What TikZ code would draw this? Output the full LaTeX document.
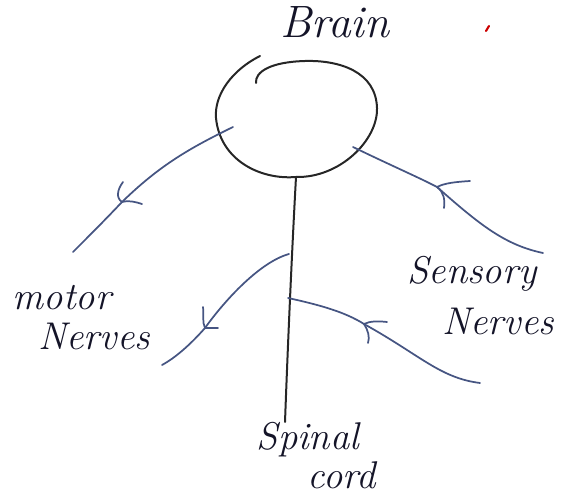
\documentclass[tikz,border=0pt]{standalone}
\begin{document}
\begin{tikzpicture}[x=0.75pt,y=-0.75pt,
  ink/.style={line width=1.5pt,draw=black!85,line cap=round,line join=round},
  nerve/.style={line width=1.3pt,draw={rgb,255:red,70;green,85;blue,130},line cap=round,line join=round},
  label/.style={font=\itshape\fontsize{29}{29}\selectfont,text={rgb,255:red,20;green,20;blue,40},inner sep=0pt}]
\useasboundingbox (0,0) rectangle (578,498);
% coordinates
\coordinate (cb) at (296,177);
\coordinate (m1) at (233,127);
\coordinate (m2) at (73,252);
\coordinate (ma) at (122,202);
\coordinate (s1) at (353,147);
\coordinate (s2) at (543,253);
\coordinate (sa) at (437,187);
\coordinate (sc) at (285,422);
\coordinate (b1) at (289,254);
\coordinate (b2) at (162,365);
\coordinate (ba) at (205,328);
\coordinate (c1) at (288,298);
\coordinate (c2) at (480,383);
\coordinate (ca) at (364,324);
% brain loop
\draw[ink] (260,56) .. controls (232,70) and (214,95) .. (216,118)
  .. controls (220,160) and (260,180) .. (cb)
  .. controls (340,178) and (378,140) .. (377,108)
  .. controls (376,72) and (340,60) .. (305,61)
  .. controls (270,62) and (255,72) .. (256,83);
% spinal cord
\draw[ink] (cb) .. controls (292,250) and (288,340) .. (sc);
% motor nerve from brain
\draw[nerve] (m1) .. controls (190,148) and (160,165) .. (ma) .. controls (105,220) and (90,235) .. (m2);
\draw[nerve] (123,182) .. controls (117,190) and (116,198) .. (ma) .. controls (128,200) and (136,202) .. (142,204);
% sensory nerve to brain
\draw[nerve] (s1) .. controls (390,165) and (420,178) .. (sa) .. controls (480,225) and (505,245) .. (s2);
\draw[nerve] (470,181) .. controls (455,182) and (445,183) .. (sa) .. controls (444,192) and (445,200) .. (444,208);
% motor branch from cord
\draw[nerve] (b1) .. controls (260,262) and (225,300) .. (ba) .. controls (190,345) and (175,358) .. (b2);
\draw[nerve] (203,307) .. controls (204,315) and (202,322) .. (ba) .. controls (210,328) and (214,328) .. (218,328);
% sensory branch to cord
\draw[nerve] (c1) .. controls (320,305) and (345,312) .. (ca) .. controls (420,355) and (440,378) .. (c2);
\draw[nerve] (387,322) .. controls (378,321) and (370,321) .. (ca) .. controls (368,330) and (370,337) .. (368,343);
% labels
\node[label,font=\itshape\fontsize{34}{34}\selectfont] (brain) at (335,22) {Brain};
\node[label] (motor) at (62,298) {motor};
\node[label] (motorN) at (94,336) {Nerves};
\node[label] (sensory) at (472,274) {Sensory};
\node[label] (sensoryN) at (498,321) {Nerves};
\node[label] (spinal) at (308,440) {Spinal};
\node[label] (cord) at (342,475) {cord};
% red mark
\draw[line width=1.6pt,red!80!black,line cap=round] (486,31) -- (489,26);
\end{tikzpicture}
\end{document}
